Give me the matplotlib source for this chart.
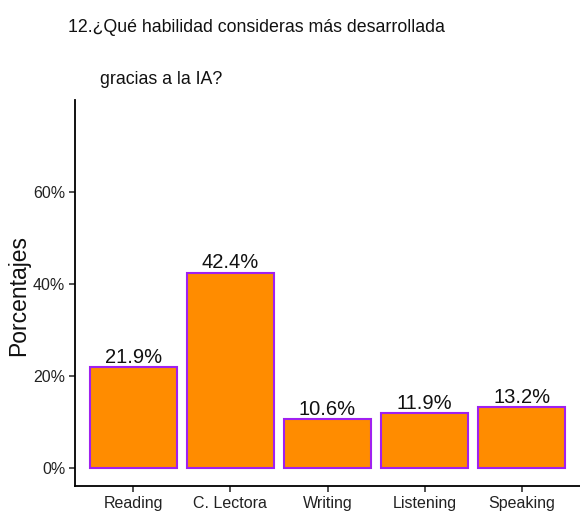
import matplotlib
matplotlib.use("Agg")
import matplotlib.pyplot as plt
from matplotlib.ticker import FuncFormatter

font = "Liberation Sans"

categories = ["Reading", "C. Lectora", "Writing", "Listening", "Speaking"]
values = [21.9, 42.4, 10.6, 11.9, 13.2]
labels = ["21.9%", "42.4%", "10.6%", "11.9%", "13.2%"]
yticks = [0, 20, 40, 60]

fig = plt.figure(figsize=(5.8, 5.18), dpi=100)
ax = fig.add_axes([75/580, 1-486/518, 1-75/580, (486-100)/518])

x = list(range(1, len(categories)+1))
ax.bar(x, values, width=0.9, color="#FF8C00", edgecolor="#A020F0", linewidth=1.5)
for xi, v, lab in zip(x, values, labels):
    ax.annotate(lab, (xi, v), xytext=(0, 0.5), textcoords="offset points",
                ha="center", va="bottom", fontsize=14.5, family=font, color="#111111")

ax.set_xlim(0.4, 5.6)
ax.set_ylim(-3.9, 80)
ax.set_xticks(x)
ax.set_xticklabels(categories, family=font, fontsize=11.5, color="#222222")
ax.set_yticks(yticks)
ax.yaxis.set_major_formatter(FuncFormatter(lambda v, p: f"{v:.0f}%"))
for t in ax.get_yticklabels():
    t.set_family(font); t.set_fontsize(11.5); t.set_color("#222222")
ax.tick_params(length=4, width=1.2, color="#333333", pad=3)
for s in ["top", "right"]:
    ax.spines[s].set_visible(False)
for s in ["left", "bottom"]:
    ax.spines[s].set_linewidth(1.3)
    ax.spines[s].set_color("black")

fig.text(19/580, 1-296/518, "Porcentajes", rotation=90, ha="center", va="center",
         fontsize=16.5, family=font, color="#111111")
fig.text(68/580, 1-27/518, "12.¿Qué habilidad consideras más desarrollada", ha="left", va="center",
         fontsize=12.8, family=font, color="#111111")
fig.text(100/580, 1-80/518, "gracias a la IA?", ha="left", va="center",
         fontsize=12.8, family=font, color="#111111")

fig.savefig("out.png", dpi=100, facecolor="white")
